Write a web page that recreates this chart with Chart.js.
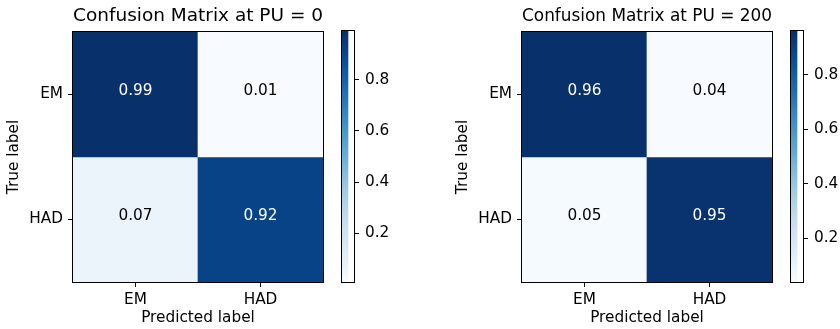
<!DOCTYPE html>
<html>
<head>
<meta charset="utf-8">
<script src="https://cdn.jsdelivr.net/npm/chart.js@4.4.1/dist/chart.umd.min.js"></script>
<style>
  html, body { margin: 0; padding: 0; background: #fff; width: 840px; height: 329px; overflow: hidden; }
  canvas { position: absolute; top: 0; }
</style>
</head>
<body>
<canvas id="m0" width="330" height="329" style="left:0px"></canvas>
<canvas id="c0" width="80" height="329" style="left:330px"></canvas>
<canvas id="m1" width="330" height="329" style="left:449px"></canvas>
<canvas id="c1" width="61" height="329" style="left:779px"></canvas>
<script>
// ---- data ----
const categories = ['EM', 'HAD'];
const titlePU0 = 'Confusion Matrix at PU = 0';
const titlePU200 = 'Confusion Matrix at PU = 200';
const pu0RowEM = [0.99, 0.01];
const pu0RowHAD = [0.07, 0.92];
const pu200RowEM = [0.96, 0.04];
const pu200RowHAD = [0.05, 0.95];
const colorbarTicks = [0.2, 0.4, 0.6, 0.8];
const xTitle = 'Predicted label';
const yTitle = 'True label';

// ---- style ----
const FONT = 'DejaVu Sans';
const FS = 15.3;      // tick / label font size
const TFS = 18.5;     // title font size
const BLUES = ['#f7fbff','#deebf7','#c6dbef','#9ecae1','#6baed6','#4292c6','#2171b5','#08519c','#08306b'];

function hexToRgb(h){ return [parseInt(h.slice(1,3),16), parseInt(h.slice(3,5),16), parseInt(h.slice(5,7),16)]; }
function blues(t){
  t = Math.max(0, Math.min(1, t));
  const p = t * (BLUES.length - 1);
  const i = Math.min(Math.floor(p), BLUES.length - 2);
  const f = p - i;
  const a = hexToRgb(BLUES[i]), b = hexToRgb(BLUES[i+1]);
  const c = a.map((v,k)=>Math.round(v + (b[k]-v)*f));
  return `rgb(${c[0]},${c[1]},${c[2]})`;
}

Chart.defaults.font.family = FONT;
Chart.defaults.color = '#000';
Chart.defaults.animation = false;

const framePlugin = {
  id: 'frame',
  afterDraw(chart) {
    const ca = chart.chartArea, ctx = chart.ctx;
    ctx.save();
    ctx.strokeStyle = '#000';
    ctx.lineWidth = 1;
    ctx.strokeRect(Math.round(ca.left) - 0.5, Math.round(ca.top) - 0.5, Math.round(ca.right - ca.left) + 1, Math.round(ca.bottom - ca.top) + 1);
    ctx.restore();
  }
};

const cellTextPlugin = {
  id: 'cellText',
  afterDatasetsDraw(chart) {
    const ctx = chart.ctx;
    const all = chart.data.datasets.flatMap(d => d.values);
    const thresh = Math.max(...all) / 2;
    ctx.save();
    ctx.font = `${FS}px "${FONT}"`;
    ctx.textAlign = 'center';
    ctx.textBaseline = 'alphabetic';
    chart.data.datasets.forEach((ds, di) => {
      const meta = chart.getDatasetMeta(di);
      meta.data.forEach((bar, j) => {
        const v = ds.values[j];
        const p = bar.getProps(['x','y','base'], true);
        ctx.fillStyle = v > thresh ? '#ffffff' : '#000000';
        ctx.fillText(v.toFixed(2), p.x, (p.y + p.base) / 2);
      });
    });
    ctx.restore();
  }
};

function makeMatrix(id, title, rows) {
  const all = rows.flat();
  const vmin = Math.min(...all), vmax = Math.max(...all);
  const datasets = rows.map((row, i) => ({
    label: categories[i],
    values: row,
    data: row.map(() => [i, i + 1]),
    backgroundColor: row.map(v => blues((v - vmin) / (vmax - vmin))),
    borderWidth: 0,
    barPercentage: 1,
    categoryPercentage: 1
  }));
  new Chart(document.getElementById(id), {
    type: 'bar',
    data: { labels: categories, datasets },
    options: {
      responsive: false,
      layout: { padding: { left: 0, right: 7, top: 0, bottom: 0 } },
      plugins: {
        legend: { display: false },
        tooltip: { enabled: false },
        title: {
          display: true, text: title, fullSize: false, color: '#000',
          font: { family: FONT, size: TFS, weight: 'normal', lineHeight: 1.2 },
          padding: { top: 5.5, bottom: 4.3 }
        }
      },
      scales: {
        x: {
          type: 'category', stacked: true, offset: true,
          grid: { display: true, drawOnChartArea: false, drawTicks: true, tickLength: 5, color: '#000', offset: false },
          border: { display: false },
          ticks: { font: { family: FONT, size: FS }, color: '#000', padding: 4, maxRotation: 0 },
          title: { display: true, text: xTitle, color: '#000', font: { family: FONT, size: FS, lineHeight: 1.2 }, padding: { top: 0, bottom: 2 } },
          afterFit(s) { s.height = 47; }
        },
        y: {
          type: 'linear', min: 0, max: 2, reverse: true, stacked: false,
          afterBuildTicks(s) { s.ticks = [{ value: 0.5 }, { value: 1.5 }]; },
          grid: { display: true, drawOnChartArea: false, drawTicks: true, tickLength: 5, color: '#000' },
          border: { display: false },
          ticks: { font: { family: FONT, size: FS }, color: '#000', padding: 5,
                   callback: (v) => categories[Math.floor(v)] },
          title: { display: true, text: yTitle, color: '#000', font: { family: FONT, size: FS, lineHeight: 1.2 }, padding: { top: 5, bottom: 0 } },
          afterFit(s) { s.width = 73; }
        }
      }
    },
    plugins: [cellTextPlugin, framePlugin]
  });
}

function makeColorbar(id, rows, axisWidth) {
  const all = rows.flat();
  const vmin = Math.min(...all), vmax = Math.max(...all);
  new Chart(document.getElementById(id), {
    type: 'bar',
    data: {
      labels: [''],
      datasets: [{
        data: [[vmin, vmax]],
        borderWidth: 0,
        barPercentage: 1,
        categoryPercentage: 1,
        backgroundColor(ctx) {
          const chart = ctx.chart;
          const ys = chart.scales.y;
          if (!chart.chartArea || !ys) return BLUES[4];
          const g = chart.ctx.createLinearGradient(0, ys.getPixelForValue(vmin), 0, ys.getPixelForValue(vmax));
          for (let k = 0; k <= 32; k++) g.addColorStop(k / 32, blues(k / 32));
          return g;
        }
      }]
    },
    options: {
      responsive: false,
      layout: { padding: { left: 12, right: 0, top: 31, bottom: 47 } },
      plugins: { legend: { display: false }, tooltip: { enabled: false }, title: { display: false } },
      scales: {
        x: { display: false, offset: false },
        y: {
          position: 'right', min: vmin, max: vmax,
          afterBuildTicks(s) { s.ticks = colorbarTicks.map(v => ({ value: v })); },
          grid: { display: true, drawOnChartArea: false, drawTicks: true, tickLength: 5, color: '#000' },
          border: { display: false },
          ticks: { font: { family: FONT, size: FS }, color: '#000', padding: 6, callback: (v) => v.toFixed(1) },
          afterFit(s) { s.width = axisWidth; }
        }
      }
    },
    plugins: [framePlugin]
  });
}

makeMatrix('m0', titlePU0, [pu0RowEM, pu0RowHAD]);
makeColorbar('c0', [pu0RowEM, pu0RowHAD], 56);
makeMatrix('m1', titlePU200, [pu200RowEM, pu200RowHAD]);
makeColorbar('c1', [pu200RowEM, pu200RowHAD], 37);
</script>
</body>
</html>
